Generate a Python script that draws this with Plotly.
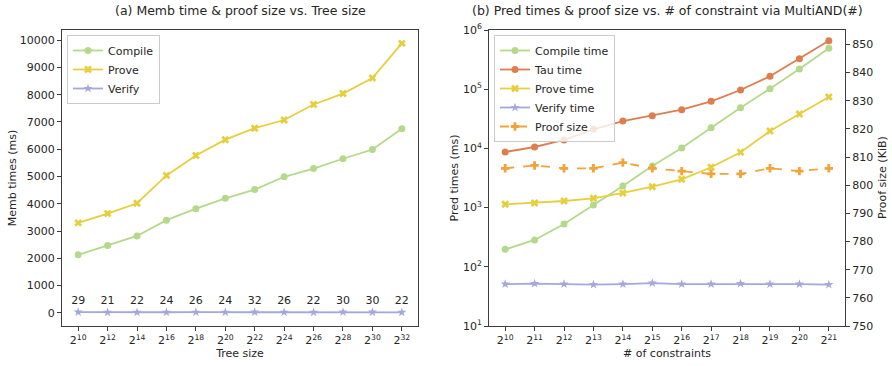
import plotly.graph_objects as go

# ---------------- data ----------------
tree_exp = [10, 12, 14, 16, 18, 20, 22, 24, 26, 28, 30, 32]
memb_compile = [2130, 2470, 2820, 3400, 3820, 4200, 4520, 4990, 5290, 5650, 5990, 6750]
memb_prove = [3300, 3640, 4020, 5040, 5770, 6350, 6770, 7070, 7640, 8040, 8610, 9880]
memb_verify = [29, 21, 22, 24, 26, 24, 32, 26, 22, 30, 30, 22]

cons_exp = [10, 11, 12, 13, 14, 15, 16, 17, 18, 19, 20, 21]
pred_compile = [197, 284, 528, 1107, 2320, 5050, 10160, 22400, 48700, 102000, 219000, 490000]
pred_tau = [8690, 10560, 13870, 21000, 29000, 35700, 45100, 62400, 96900, 165000, 328000, 660000]
pred_prove = [1136, 1196, 1293, 1436, 1765, 2254, 3006, 4800, 8590, 19670, 38100, 73800]
pred_verify = [51, 52, 51, 50, 51, 53, 51, 51, 52, 51, 51, 50]
proof_size = [806, 807, 806, 806, 808, 806, 805, 804, 804, 806, 805, 806]

left_yticks = [0, 1000, 2000, 3000, 4000, 5000, 6000, 7000, 8000, 9000, 10000]
log_exps = [1, 2, 3, 4, 5, 6]
right_yticks = [750, 760, 770, 780, 790, 800, 810, 820, 830, 840, 850]

# ---------------- style ----------------
C_COMPILE = "#b5d98a"
C_TAU = "#e07d4e"
C_PROVE = "#e6cf3f"
C_VERIFY = "#a4a8da"
C_PROOF = "#f2a33a"
FONT = "DejaVu Sans"
INK = "#262626"
SPINE = "#3d3d3d"
LW = 1.8
MS = 7

fig = go.Figure()

def line(x, y, name, color, symbol, xa, ya, legend, dash="solid", **kw):
    return go.Scatter(
        x=x, y=y, name=name, mode=kw.pop("mode", "lines+markers"),
        line=dict(color=color, width=LW, dash=dash),
        marker=dict(color=color, symbol=symbol, size=MS, line=dict(width=0)),
        xaxis=xa, yaxis=ya, legend=legend, **kw)

# left panel
fig.add_trace(line(tree_exp, memb_compile, "Compile", C_COMPILE, "circle", "x", "y", "legend"))
fig.add_trace(line(tree_exp, memb_prove, "Prove", C_PROVE, "x", "x", "y", "legend"))
fig.add_trace(line(tree_exp, memb_verify, "Verify", C_VERIFY, "star", "x", "y", "legend",
                   mode="lines+markers+text", text=[str(v) for v in memb_verify],
                   textposition="top center",
                   textfont=dict(family=FONT, size=11, color=INK)))

# right panel
fig.add_trace(line(cons_exp, pred_compile, "Compile time", C_COMPILE, "circle", "x2", "y2", "legend2"))
fig.add_trace(line(cons_exp, pred_tau, "Tau time", C_TAU, "circle", "x2", "y2", "legend2"))
fig.add_trace(line(cons_exp, pred_prove, "Prove time", C_PROVE, "x", "x2", "y2", "legend2"))
fig.add_trace(line(cons_exp, pred_verify, "Verify time", C_VERIFY, "star", "x2", "y2", "legend2"))
fig.add_trace(line(cons_exp, proof_size, "Proof size", C_PROOF, "cross", "x2", "y3", "legend2", dash="dash"))

axis_common = dict(
    showgrid=False, zeroline=False, showline=True, linecolor=SPINE, linewidth=1,
    ticks="outside", ticklen=4, tickcolor=SPINE, tickwidth=1, automargin=False,
    tickfont=dict(family=FONT, size=11, color=INK),
    title_font=dict(family=FONT, size=11, color=INK),
)

L0, L1 = 62 / 892, 418 / 892
R0, R1 = 489 / 892, 845 / 892
Y0, Y1 = 1 - 326 / 366, 1 - 30 / 366

fig.update_layout(
    width=892, height=366,
    margin=dict(l=0, r=0, t=0, b=0),
    paper_bgcolor="white", plot_bgcolor="white",
    font=dict(family=FONT, size=11, color=INK),
    showlegend=True,
    xaxis=dict(axis_common, domain=[L0, L1], anchor="y", mirror=True,
               range=[10 - 1.1, 32 + 1.1],
               tickvals=tree_exp, ticktext=[f"2<sup>{e}</sup>" for e in tree_exp],
               title=dict(text="Tree size", standoff=3)),
    yaxis=dict(axis_common, domain=[Y0, Y1], anchor="x", mirror=True,
               range=[-480, 10370], tickvals=left_yticks,
               ticktext=[str(v) for v in left_yticks],
               title=dict(text="Memb times (ms)", standoff=0)),
    xaxis2=dict(axis_common, domain=[R0, R1], anchor="y2", mirror=True,
                range=[10 - 0.55, 21 + 0.55],
                tickvals=cons_exp, ticktext=[f"2<sup>{e}</sup>" for e in cons_exp],
                title=dict(text="# of constraints", standoff=3)),
    yaxis2=dict(axis_common, domain=[Y0, Y1], anchor="x2", type="log",
                range=[1, 6], tickvals=[10 ** e for e in log_exps],
                ticktext=[f"10<sup>{e}</sup>" for e in log_exps],
                title=dict(text="Pred times (ms)", standoff=2)),
    yaxis3=dict(axis_common, overlaying="y2", anchor="x2", side="right",
                range=[750, 855.1], tickvals=right_yticks,
                ticktext=[str(v) for v in right_yticks]),
    legend=dict(x=67 / 892, y=1 - 35 / 366, xanchor="left", yanchor="top",
                bgcolor="rgba(255,255,255,0.8)", bordercolor="#cccccc", borderwidth=1,
                font=dict(family=FONT, size=11, color=INK), itemwidth=30,
                tracegroupgap=0),
    legend2=dict(x=494 / 892, y=1 - 35 / 366, xanchor="left", yanchor="top",
                 bgcolor="rgba(255,255,255,0.8)", bordercolor="#cccccc", borderwidth=1,
                 font=dict(family=FONT, size=11, color=INK), itemwidth=30,
                 tracegroupgap=0),
    annotations=[
        dict(text="(a) Memb time & proof size vs. Tree size", x=(L0 + L1) / 2, y=1 - 10 / 366,
             xref="paper", yref="paper", showarrow=False, xanchor="center", yanchor="middle",
             font=dict(family=FONT, size=12.5, color=INK)),
        dict(text="(b) Pred times & proof size vs. # of constraint via MultiAND(#)",
             x=(R0 + R1) / 2, y=1 - 10 / 366,
             xref="paper", yref="paper", showarrow=False, xanchor="center", yanchor="middle",
             font=dict(family=FONT, size=12.5, color=INK)),
        dict(text="Proof size (KiB)", x=882 / 892, y=(Y0 + Y1) / 2, textangle=-90,
             xref="paper", yref="paper", showarrow=False, xanchor="center", yanchor="middle",
             font=dict(family=FONT, size=11, color=INK)),
    ],
)

fig.write_html(
    "out.html",
    config={"displayModeBar": False},
    post_script="document.body.style.margin='0';document.body.style.overflow='hidden';",
)
